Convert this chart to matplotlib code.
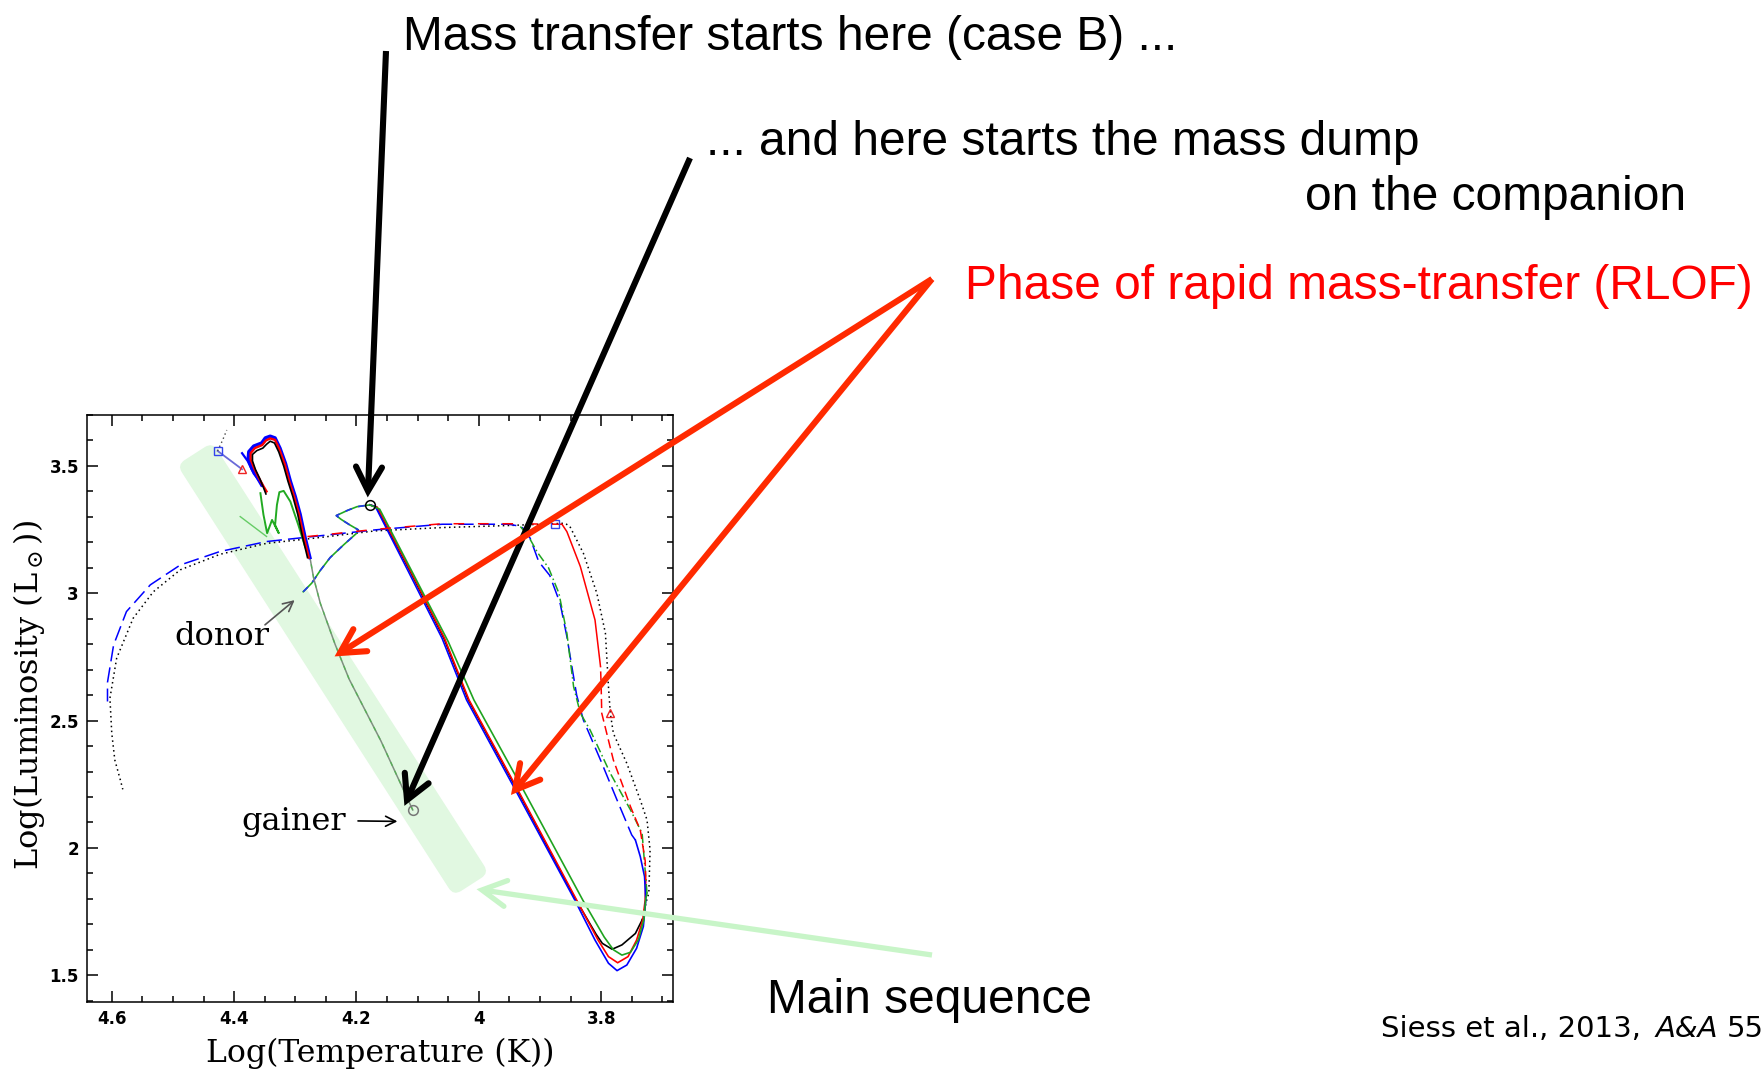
import numpy as np
import matplotlib
matplotlib.use('Agg')
import matplotlib.pyplot as plt
from matplotlib.patches import FancyBboxPatch
from matplotlib.transforms import Affine2D
from matplotlib.ticker import MultipleLocator

plt.rcParams['mathtext.fontset'] = 'dejavuserif'

# ---- data (log T, log L) ----
x_ticks = [4.6, 4.4, 4.2, 4.0, 3.8]
x_labels = ['4.6', '4.4', '4.2', '4', '3.8']
y_ticks = [1.5, 2.0, 2.5, 3.0, 3.5]
y_labels = ['1.5', '2', '2.5', '3', '3.5']

# donor main sequence up to onset of case B
donor_ms = [(4.287, 3.006), (4.273, 3.040), (4.259, 3.090), (4.243, 3.140), (4.221, 3.190),
            (4.200, 3.235), (4.197, 3.249), (4.212, 3.270), (4.225, 3.290), (4.233, 3.305),
            (4.215, 3.325), (4.199, 3.340), (4.178, 3.347)]

# rapid mass transfer (solid)
rlof_blue = [(4.178, 3.347), (4.169, 3.340), (4.115, 3.085), (4.060, 2.823), (4.020, 2.581),
             (3.940, 2.227), (3.843, 1.795), (3.810, 1.638), (3.788, 1.547), (3.774, 1.518),
             (3.758, 1.540), (3.742, 1.606), (3.731, 1.691), (3.727, 1.795), (3.729, 1.887),
             (3.736, 1.966), (3.744, 2.031)]
rlof_red = [(4.178, 3.347), (4.166, 3.338), (4.111, 3.085), (4.056, 2.823), (4.016, 2.581),
            (3.936, 2.227), (3.840, 1.795), (3.805, 1.638), (3.788, 1.573), (3.773, 1.549),
            (3.756, 1.573), (3.742, 1.638), (3.732, 1.717), (3.728, 1.795), (3.727, 1.874)]
rlof_black = [(4.178, 3.347), (4.167, 3.338), (4.112, 3.085), (4.057, 2.823), (4.017, 2.581),
              (3.937, 2.227), (3.841, 1.795), (3.808, 1.660), (3.798, 1.625), (3.782, 1.602),
              (3.766, 1.619), (3.744, 1.664), (3.733, 1.717)]
rlof_green = [(4.178, 3.347), (4.162, 3.330), (4.107, 3.075), (4.050, 2.810), (4.008, 2.581),
              (3.927, 2.227), (3.830, 1.795), (3.795, 1.650), (3.780, 1.600), (3.766, 1.579),
              (3.752, 1.590), (3.739, 1.640), (3.730, 1.720), (3.727, 1.800), (3.725, 1.822)]

# slow phase, back to the hot side
post_blue = [(3.744, 2.031), (3.750, 2.051), (3.774, 2.188), (3.801, 2.345), (3.829, 2.502),
             (3.840, 2.600), (3.847, 2.700), (3.856, 2.830), (3.867, 2.960), (3.884, 3.070),
             (3.902, 3.124), (3.916, 3.216), (3.930, 3.262), (3.951, 3.271), (4.060, 3.271),
             (4.169, 3.249), (4.270, 3.223), (4.347, 3.203), (4.423, 3.164), (4.488, 3.111),
             (4.537, 3.033), (4.576, 2.928), (4.597, 2.797), (4.607, 2.650), (4.607, 2.575)]
post_red_a = [(3.727, 1.874), (3.728, 1.950), (3.736, 2.070), (3.752, 2.162), (3.780, 2.345),
              (3.799, 2.529), (3.800, 2.640), (3.801, 2.712)]
post_red_b = [(3.801, 2.712), (3.810, 2.895), (3.834, 3.105), (3.856, 3.242), (3.864, 3.271)]
post_red_c = [(3.864, 3.271), (3.951, 3.273), (4.060, 3.273), (4.169, 3.251), (4.270, 3.225),
              (4.300, 3.218)]
post_black = [(3.733, 1.717), (3.725, 1.800), (3.722, 1.822), (3.720, 1.992), (3.725, 2.110),
              (3.736, 2.188), (3.758, 2.332), (3.780, 2.450), (3.785, 2.529), (3.788, 2.633),
              (3.793, 2.843), (3.807, 3.000), (3.829, 3.157), (3.851, 3.262), (3.859, 3.275),
              (3.951, 3.266), (4.060, 3.258), (4.169, 3.245), (4.270, 3.216), (4.347, 3.196),
              (4.423, 3.153), (4.488, 3.092), (4.532, 3.006), (4.565, 2.902), (4.592, 2.745),
              (4.603, 2.588), (4.600, 2.450), (4.595, 2.345), (4.586, 2.267), (4.582, 2.230)]
post_green = [(3.725, 1.822), (3.733, 2.057), (3.752, 2.149), (3.785, 2.293), (3.818, 2.463),
              (3.834, 2.529), (3.845, 2.633), (3.856, 2.843), (3.869, 3.000), (3.886, 3.100),
              (3.904, 3.160), (3.918, 3.220), (3.932, 3.262)]

# gainer: up the main sequence, then its own evolution
gainer_ms = [(4.108, 2.149), (4.160, 2.420), (4.212, 2.663), (4.235, 2.800), (4.259, 2.960),
             (4.270, 3.060), (4.276, 3.140)]
gainer_blue = [(4.276, 3.140), (4.284, 3.220), (4.292, 3.310), (4.300, 3.380), (4.308, 3.440),
               (4.316, 3.510), (4.325, 3.570), (4.333, 3.610), (4.341, 3.617), (4.349, 3.610),
               (4.355, 3.590), (4.368, 3.578), (4.376, 3.556), (4.377, 3.530), (4.371, 3.490),
               (4.363, 3.458), (4.355, 3.425)]
gainer_blue_hook = [(4.387, 3.550), (4.378, 3.520), (4.368, 3.470), (4.355, 3.430)]
gainer_red = [(4.278, 3.140), (4.286, 3.220), (4.294, 3.310), (4.302, 3.380), (4.310, 3.440),
              (4.317, 3.505), (4.326, 3.565), (4.333, 3.602), (4.341, 3.608), (4.348, 3.600),
              (4.354, 3.582), (4.366, 3.570), (4.373, 3.550), (4.373, 3.525), (4.367, 3.490),
              (4.360, 3.455), (4.352, 3.420), (4.347, 3.400)]
gainer_black = [(4.280, 3.140), (4.288, 3.220), (4.296, 3.310), (4.304, 3.380), (4.312, 3.440),
                (4.319, 3.500), (4.327, 3.555), (4.334, 3.590), (4.341, 3.597), (4.347, 3.585),
                (4.353, 3.570), (4.363, 3.560), (4.370, 3.545), (4.370, 3.520), (4.365, 3.485),
                (4.358, 3.450), (4.352, 3.415), (4.348, 3.390)]
gainer_green = [(4.276, 3.140), (4.284, 3.183), (4.295, 3.268), (4.308, 3.360), (4.319, 3.402),
                (4.326, 3.397), (4.330, 3.347), (4.333, 3.268), (4.327, 3.236), (4.338, 3.288),
                (4.346, 3.236), (4.352, 3.308), (4.357, 3.393)]
gainer_green_tail = [(4.390, 3.301), (4.347, 3.223)]
end_link = [(4.427, 3.559), (4.387, 3.487)]
end_dots = [(4.427, 3.559), (4.419, 3.600), (4.412, 3.641)]

case_b_start = (4.178, 3.347)
gainer_start = (4.108, 2.149)
square_pts = [(3.875, 3.271), (4.427, 3.559)]
triangle_pts = [(3.785, 2.529), (4.387, 3.487)]

# ---- figure ----
W, H = 1765, 1071
fig = plt.figure(figsize=(W / 100, H / 100), dpi=100)
ax = fig.add_axes([87.3 / W, 1 - 1001.7 / H, 585.4 / W, 586.7 / H])
ov = fig.add_axes([0, 0, 1, 1])
ov.set_xlim(0, W)
ov.set_ylim(H, 0)
ov.axis('off')


def xy(pts):
    a = np.array(pts)
    return a[:, 0], a[:, 1]


# main sequence band (pasted shape, placed in figure pixels)
band = FancyBboxPatch((-256, -21), 512, 42, boxstyle='round,pad=0,rounding_size=9',
                      fc='#e1f8e1', ec='none', zorder=0)
band.set_transform(Affine2D().rotate_deg(57.3).translate(333, 669) + ov.transData)
ax.add_patch(band)

ax.plot(*xy(donor_ms), color='#22aa22', lw=1.2, zorder=3)
ax.plot(*xy(donor_ms), color='#2233ee', lw=1.2, dashes=(4, 4), zorder=3)

ax.plot(*xy(rlof_black), color='black', lw=1.2, zorder=2)
ax.plot(*xy(rlof_red), color='red', lw=1.2, zorder=3)
ax.plot(*xy(rlof_blue), color='blue', lw=1.2, zorder=3)
ax.plot(*xy(rlof_green), color='#1fa31f', lw=1.2, zorder=3)

ax.plot(*xy(post_black), color='black', lw=1.1, dashes=(1, 2.2), zorder=2)
ax.plot(*xy(post_blue), color='blue', lw=1.1, dashes=(10, 4), zorder=3)
ax.plot(*xy(post_green), color='#1fa31f', lw=1.1, dashes=(6, 2, 1, 2), zorder=3)
ax.plot(*xy(post_red_a), color='red', lw=1.1, dashes=(6, 3), zorder=3)
ax.plot(*xy(post_red_b), color='red', lw=1.1, zorder=3)
ax.plot(*xy(post_red_c), color='red', lw=1.1, dashes=(7, 9), zorder=3)

ax.plot(*xy(gainer_ms), color='#7f8f80', lw=1.1, zorder=3)
ax.plot(*xy(gainer_ms), color='#44bb44', lw=1.0, dashes=(3, 4), alpha=0.7, zorder=3)
ax.plot(*xy(gainer_green), color='#22aa22', lw=1.4, zorder=3)
ax.plot(*xy(gainer_green_tail), color='#66cc66', lw=1.0, zorder=3)
ax.plot(*xy(gainer_blue), color='blue', lw=2.4, zorder=3)
ax.plot(*xy(gainer_blue_hook), color='blue', lw=1.6, zorder=3)
ax.plot(*xy(gainer_red), color='red', lw=1.7, zorder=4)
ax.plot(*xy(gainer_black), color='black', lw=1.2, zorder=5)
ax.plot(*xy(end_link), color='#6a6ad8', lw=1.3, zorder=3)
ax.plot(*xy(end_dots), color='#444444', lw=1.0, dashes=(1, 2.2), zorder=3)

ax.plot(*xy(square_pts), ls='none', marker='s', ms=6, mfc='none', mec='#3344ee', mew=1.0, zorder=6)
ax.plot(*xy(triangle_pts), ls='none', marker='^', ms=6, mfc='none', mec='#ee2222', mew=1.0, zorder=6)
ax.plot(*case_b_start, ls='none', marker='o', ms=7, mfc='none', mec='black', mew=1.1, zorder=6)
ax.plot(*gainer_start, ls='none', marker='o', ms=7, mfc='none', mec='#777777', mew=1.1, zorder=6)

ax.text(4.42, 2.83, 'donor', family='DejaVu Serif', fontsize=23, ha='center', va='center')
ax.annotate('', xy=(4.2975, 2.980), xytext=(4.353, 2.869),
            arrowprops=dict(arrowstyle='->', color='#555555', lw=1.2, mutation_scale=18))
ax.text(4.302, 2.105, 'gainer', family='DejaVu Serif', fontsize=23, ha='center', va='center')
ax.annotate('', xy=(4.1285, 2.104), xytext=(4.202, 2.106),
            arrowprops=dict(arrowstyle='->', color='black', lw=1.2, mutation_scale=18))

ax.set_xlim(4.64, 3.683)
ax.set_ylim(1.396, 3.70)
ax.set_xticks(x_ticks)
ax.set_xticklabels(x_labels, fontweight='bold', family='DejaVu Sans', fontsize=12)
ax.set_yticks(y_ticks)
ax.set_yticklabels(y_labels, fontweight='bold', family='DejaVu Sans', fontsize=12)
ax.xaxis.set_minor_locator(MultipleLocator(0.05))
ax.yaxis.set_minor_locator(MultipleLocator(0.1))
ax.tick_params(which='both', direction='in', top=True, right=True, width=1.1, pad=6)
ax.tick_params(which='major', length=8)
ax.tick_params(which='minor', length=4)
for s in ax.spines.values():
    s.set_linewidth(1.1)
ax.set_xlabel('Log(Temperature (K))', family='DejaVu Serif', fontsize=22.7, va='center')
ax.xaxis.set_label_coords(0.5, -0.0885)
ax.set_ylabel(r'Log(Luminosity (L$_\odot$))', family='DejaVu Serif', fontsize=23, va='center')
ax.yaxis.set_label_coords(-0.099, 0.522)


# ---- slide annotations (figure pixels) ----
def arrow(tail, tip, color, lw, hl=24, hw=13):
    x0, y0 = tail
    x1, y1 = tip
    d = np.hypot(x1 - x0, y1 - y0)
    ux, uy = (x1 - x0) / d, (y1 - y0) / d
    ov.plot([x0, x1 - 2 * ux], [y0, y1 - 2 * uy], color=color, lw=lw, solid_capstyle='butt')
    ov.plot([x1 - hl * ux - hw * uy, x1, x1 - hl * ux + hw * uy],
            [y1 - hl * uy + hw * ux, y1, y1 - hl * uy - hw * ux],
            color=color, lw=lw, solid_joinstyle='miter', solid_capstyle='round')


arrow((932, 955), (482, 890), '#c8f5c8', 3.8)
arrow((386, 51), (368, 491), 'black', 4.4)
arrow((690, 158), (407, 800), 'black', 4.4)
arrow((932, 279), (340, 653), '#ff2a00', 4.4)
arrow((932, 279), (515, 790), '#ff2a00', 4.4)

big = dict(family='Liberation Sans', fontsize=34.5, va='baseline', ha='left')
ov.text(403, 50, 'Mass transfer starts here (case B) ...', **big)
ov.text(706, 155, '... and here starts the mass dump', **big)
ov.text(1305, 210, 'on the companion', **big)
ov.text(965, 299, 'Phase of rapid mass-transfer (RLOF)', color='red', **big)
ov.text(767, 1013, 'Main sequence', **big)

ref = dict(family='DejaVu Sans', fontsize=21, va='baseline', ha='left')
ov.text(1381, 1037, 'Siess et al., 2013,', **ref)
ov.text(1656, 1037, 'A&A', style='italic', **ref)
ov.text(1727, 1037, '55', **ref)

fig.savefig('out.png', dpi=100)
